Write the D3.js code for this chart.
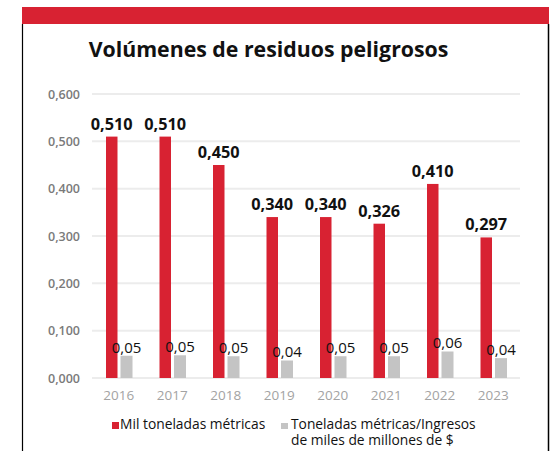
<!DOCTYPE html>
<html>
<head>
<meta charset="utf-8">
<script src="https://cdn.jsdelivr.net/npm/d3@7"></script>
<style>
  body { margin: 0; background: #fff; }
  svg { display: block; font-family: "Open Sans", sans-serif; }
</style>
</head>
<body>
<script>
// data
var years = ["2016", "2017", "2018", "2019", "2020", "2021", "2022", "2023"];
var tonnes = [0.510, 0.510, 0.450, 0.340, 0.340, 0.326, 0.410, 0.297];
var perRevenue = [0.047, 0.048, 0.046, 0.037, 0.046, 0.046, 0.056, 0.042];
var yTicks = [0, 0.1, 0.2, 0.3, 0.4, 0.5, 0.6];
var legendLabels = ["Mil toneladas métricas", ["Toneladas métricas/Ingresos", "de miles de millones de $"]];

var W = 553, H = 451;
var red = "#d82232", grey = "#c4c4c4";

var svg = d3.select("body").append("svg")
    .attr("width", W)
    .attr("height", H);

// frame
svg.append("rect").attr("x", 22).attr("y", 7).attr("width", 527).attr("height", 17).attr("fill", red);
svg.append("line").attr("x1", 22.5).attr("x2", 22.5).attr("y1", 24).attr("y2", H)
    .attr("stroke", "#000").attr("stroke-width", 1.2);
svg.append("line").attr("x1", 548.5).attr("x2", 548.5).attr("y1", 24).attr("y2", H)
    .attr("stroke", "#000").attr("stroke-width", 1.5);

svg.append("text")
    .attr("x", 268.5).attr("y", 57)
    .attr("text-anchor", "middle")
    .attr("font-size", 21.3).attr("font-weight", 700)
    .attr("fill", "#111")
    .text("Volúmenes de residuos peligrosos");

var x = d3.scaleBand().domain(years).range([92, 520]);
var y = d3.scaleLinear().domain([0, 0.6]).range([378, 94]);
var fmt3 = function(v) { return d3.format(".3f")(v).replace(".", ","); };
var fmt2 = function(v) { return d3.format(".2f")(v).replace(".", ","); };

// grid
svg.append("g").selectAll("line")
  .data(yTicks)
  .enter().append("line")
    .attr("x1", 92).attr("x2", 520)
    .attr("y1", function(d) { return y(d); })
    .attr("y2", function(d) { return y(d); })
    .attr("stroke", "#ececec").attr("stroke-width", 2);

var yAxis = svg.append("g")
    .attr("transform", "translate(80,0)")
    .call(d3.axisLeft(y).tickValues(yTicks).tickSize(0).tickPadding(0).tickFormat(fmt3));
yAxis.select(".domain").remove();
yAxis.selectAll("text")
    .attr("font-family", "Open Sans, sans-serif")
    .attr("font-size", 12.5).attr("font-weight", 600)
    .attr("fill", "#7a7a7a");

var xAxis = svg.append("g")
    .attr("transform", "translate(0,378)")
    .call(d3.axisBottom(x).tickSize(0).tickPadding(12));
xAxis.select(".domain").remove();
xAxis.selectAll("text")
    .attr("font-family", "Open Sans, sans-serif")
    .attr("font-size", 13.5)
    .attr("fill", "#a3a3a3");

var bw = 11.5;
var g = svg.append("g");

g.selectAll(".bar-red")
  .data(years)
  .enter().append("rect")
    .attr("class", "bar-red")
    .attr("x", function(d) { return x(d) + 14; })
    .attr("y", function(d, i) { return y(tonnes[i]); })
    .attr("width", bw)
    .attr("height", function(d, i) { return y(0) - y(tonnes[i]); })
    .attr("fill", red);

g.selectAll(".bar-grey")
  .data(years)
  .enter().append("rect")
    .attr("class", "bar-grey")
    .attr("x", function(d) { return x(d) + 28.5; })
    .attr("y", function(d, i) { return y(perRevenue[i]); })
    .attr("width", 12)
    .attr("height", function(d, i) { return y(0) - y(perRevenue[i]); })
    .attr("fill", grey);

g.selectAll(".lbl-red")
  .data(years)
  .enter().append("text")
    .attr("x", function(d) { return x(d) + 14 + bw / 2; })
    .attr("y", function(d, i) { return y(tonnes[i]) - 7; })
    .attr("text-anchor", "middle")
    .attr("font-size", 16.3).attr("font-weight", 700)
    .attr("fill", "#111")
    .text(function(d, i) { return fmt3(tonnes[i]); });

g.selectAll(".lbl-grey")
  .data(years)
  .enter().append("text")
    .attr("x", function(d) { return x(d) + 34.5; })
    .attr("y", function(d, i) { return y(perRevenue[i]) - 3; })
    .attr("text-anchor", "middle")
    .attr("font-size", 15)
    .attr("fill", "#111")
    .text(function(d, i) { return fmt2(perRevenue[i]); });

// legend
var leg = svg.append("g").attr("font-size", 13.8).attr("fill", "#111");
leg.append("rect").attr("x", 112).attr("y", 422).attr("width", 7).attr("height", 7).attr("fill", red);
leg.append("text").attr("x", 120).attr("y", 429).text(legendLabels[0]);
leg.append("rect").attr("x", 281).attr("y", 423).attr("width", 7).attr("height", 6).attr("fill", grey);
leg.append("text").attr("x", 291).attr("y", 429).text(legendLabels[1][0]);
leg.append("text").attr("x", 291).attr("y", 445).text(legendLabels[1][1]);
</script>
</body>
</html>
